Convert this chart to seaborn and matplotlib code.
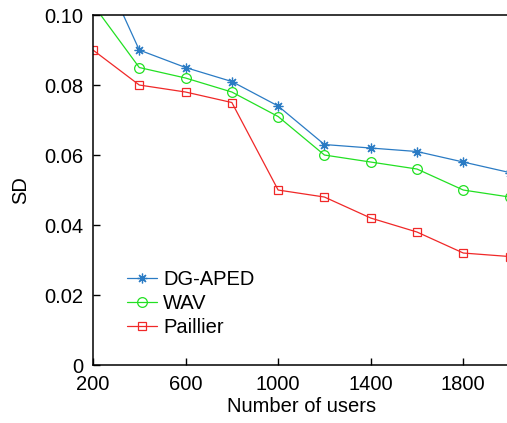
import numpy as np
import pandas as pd
import matplotlib
matplotlib.use('Agg')
import matplotlib.pyplot as plt
import seaborn as sns
from matplotlib.lines import Line2D

users = [200, 400, 600, 800, 1000, 1200, 1400, 1600, 1800, 2000]
sd_dgaped = [0.119, 0.090, 0.085, 0.081, 0.074, 0.063, 0.062, 0.061, 0.058, 0.055]
sd_wav = [0.103, 0.085, 0.082, 0.078, 0.071, 0.060, 0.058, 0.056, 0.050, 0.048]
sd_paillier = [0.090, 0.080, 0.078, 0.075, 0.050, 0.048, 0.042, 0.038, 0.032, 0.031]
methods = ['DG-APED', 'WAV', 'Paillier']
xticks = [200, 600, 1000, 1400, 1800]
yticks = [0, 0.02, 0.04, 0.06, 0.08, 0.10]
ytick_labels = ['0', '0.02', '0.04', '0.06', '0.08', '0.10']

series = {'DG-APED': sd_dgaped, 'WAV': sd_wav, 'Paillier': sd_paillier}

sns.set_style('ticks')
plt.rcParams['font.family'] = ['Liberation Sans', 'DejaVu Sans']
plt.rcParams['text.color'] = 'black'
plt.rcParams['axes.labelcolor'] = 'black'
plt.rcParams['xtick.color'] = 'black'
plt.rcParams['ytick.color'] = 'black'
plt.rcParams['axes.edgecolor'] = 'black'

palette = {'DG-APED': '#2a7bc4', 'WAV': '#22e022', 'Paillier': '#f02828'}
markers = {'DG-APED': (8, 2, 0), 'WAV': 'o', 'Paillier': 's'}
msizes = {'DG-APED': 7, 'WAV': 7, 'Paillier': 5.5}

fig = plt.figure(figsize=(5.07, 4.23), dpi=100)
ax = fig.add_axes([0.1834, 0.137, 0.8217, 0.8275])
for m in methods:
    sns.lineplot(x=users, y=series[m], ax=ax, color=palette[m], marker=markers[m],
                 linewidth=0.9, markersize=msizes[m], markerfacecolor='none',
                 markeredgecolor=palette[m], markeredgewidth=0.9)

ax.set_xlim(200, 2000)
ax.set_ylim(0, 0.10)
ax.set_xticks(xticks)
ax.set_yticks(yticks)
ax.set_yticklabels(ytick_labels)
ax.tick_params(direction='in', labelsize=14.5, length=5, width=1, pad=7, colors='black')
ax.set_xlabel('Number of users', fontsize=14.5, labelpad=2, color='black')
ax.set_ylabel('SD', fontsize=14.5, labelpad=10, color='black')
for s in ax.spines.values():
    s.set_linewidth(1.1)
    s.set_color('black')

handles = [Line2D([], [], color=palette[m], marker=markers[m], markersize=msizes[m],
                  markerfacecolor='none', markeredgecolor=palette[m],
                  markeredgewidth=0.9, linewidth=0.9) for m in methods]
leg = ax.legend(handles, methods, loc='lower left', bbox_to_anchor=(0.062, 0.057),
                frameon=False, fontsize=14.5, handlelength=1.5, handletextpad=0.3,
                labelspacing=0.25, borderaxespad=0)
for t in leg.get_texts():
    t.set_color('black')

fig.savefig('out.png', dpi=100)
